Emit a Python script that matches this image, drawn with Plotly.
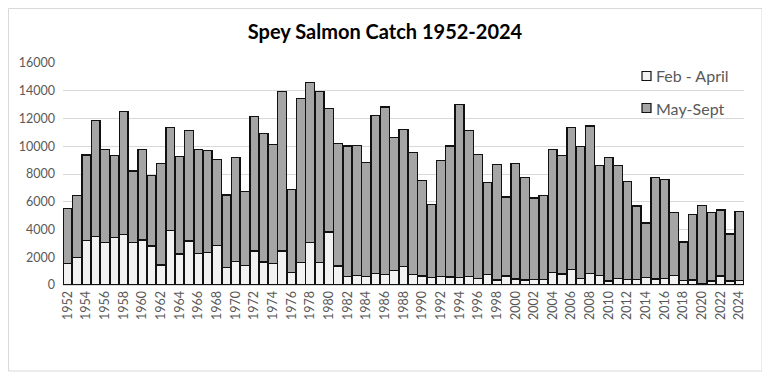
import plotly.graph_objects as go

years = list(range(1952, 2025))
feb_april = [1560, 1970, 3190, 3480, 3050, 3430, 3620, 3070, 3240, 2810,
             1440, 3910, 2230, 3170, 2260, 2350, 2860, 1270, 1700, 1420,
             2450, 1660, 1540, 2450, 890, 1610, 3070, 1610, 3820, 1370,
             620, 670, 620, 820, 740, 1030, 1320, 770, 650, 530,
             620, 580, 530, 600, 480, 770, 360, 650, 430, 360,
             400, 400, 910, 790, 1100, 460, 840, 670, 290, 480,
             380, 380, 530, 430, 480, 670, 310, 360, 100, 290,
             650, 290, 340]
may_sept = [3960, 4460, 6190, 8380, 6720, 5880, 8880, 5140, 6530, 5090,
            7340, 7420, 7010, 7990, 7510, 7320, 6210, 5210, 7470, 5300,
            9670, 9260, 8610, 11520, 6000, 11830, 11520, 12360, 8880, 8850,
            9390, 9390, 8210, 11420, 12100, 9600, 9910, 8760, 6860, 5250,
            8330, 9430, 12500, 10540, 8930, 6610, 8330, 5690, 8310, 7390,
            5860, 6030, 8880, 8520, 10230, 9520, 10630, 7930, 8880, 8120,
            7080, 5310, 3930, 7320, 7100, 4560, 2790, 4700, 5610, 4940,
            4750, 3380, 4960]
series_names = ["Feb - April", "May-Sept"]
series_colors = ["#f2f2f2", "#a5a5a5"]
y_ticks = [0, 2000, 4000, 6000, 8000, 10000, 12000, 14000, 16000]
x_ticks = years[::2]

# page offset from the default body margin
OFF = 8
W, H = 770 - OFF, 380 - OFF
# plot area in page pixels: x 63..744, y 63..285
PL, PR, PT, PB = 63, 744, 63, 285
L, T = PL - OFF, PT - OFF
R = W - (PR - OFF)
B = H - (PB - OFF)
pw, ph = PR - PL, PB - PT

def px_x(p):
    return (p - PL) / pw

def px_y(p):
    return (PB - p) / ph

FONT = "Lato, Noto Sans, sans-serif"

fig = go.Figure()
for name, vals, col in zip(series_names, [feb_april, may_sept], series_colors):
    fig.add_trace(go.Bar(x=years, y=vals, name=name,
                         marker=dict(color=col, line=dict(color="#111111", width=1.3)),
                         showlegend=False))

fig.update_layout(
    width=W, height=H,
    barmode="stack", bargap=0.06,
    margin=dict(l=L, r=R, t=T, b=B),
    paper_bgcolor="white", plot_bgcolor="white",
    font=dict(family=FONT, color="#595959", size=12.5),
    title=dict(text="<b>Spey Salmon Catch 1952-2024</b>", x=(385 - OFF) / W, xanchor="center",
               y=1 - (32 - OFF) / H, yanchor="middle",
               font=dict(size=20, color="#000000", family=FONT)),
    xaxis=dict(range=[1951.5, 2024.5], tickmode="array", tickvals=x_ticks,
               ticktext=[str(v) for v in x_ticks], tickangle=-90, showgrid=False,
               showline=True, linecolor="#d9d9d9", linewidth=1, ticks="",
               tickfont=dict(size=12.5, color="#595959"), zeroline=False),
    yaxis=dict(range=[0, 16000], tickmode="array", tickvals=y_ticks,
               ticktext=[str(v) for v in y_ticks],
               showgrid=True, gridcolor="#d9d9d9", gridwidth=1, zeroline=False,
               showline=False, ticks="", ticklabelstandoff=7,
               tickfont=dict(size=12.5, color="#595959")),
    showlegend=False,
)

# outer chart frame
fig.add_shape(type="rect", xref="paper", yref="paper",
              x0=px_x(OFF + 0.5), x1=px_x(762), y0=px_y(371), y1=px_y(OFF + 0.5),
              line=dict(color="#d9d9d9", width=1), fillcolor="rgba(0,0,0,0)", layer="below")

# legend (inside plot, top right)
leg_y = [76, 108]
for name, col, ly in zip(series_names, series_colors, leg_y):
    fig.add_shape(type="rect", xref="paper", yref="paper",
                  x0=px_x(642), x1=px_x(651), y0=px_y(ly + 4.5), y1=px_y(ly - 4.5),
                  line=dict(color="#111111", width=1.2), fillcolor=col)
    fig.add_annotation(text=name, xref="paper", yref="paper",
                       x=px_x(654), y=px_y(ly), xanchor="left", yanchor="middle",
                       showarrow=False, font=dict(size=16, color="#595959", family=FONT))

fig.write_html("out.html")
